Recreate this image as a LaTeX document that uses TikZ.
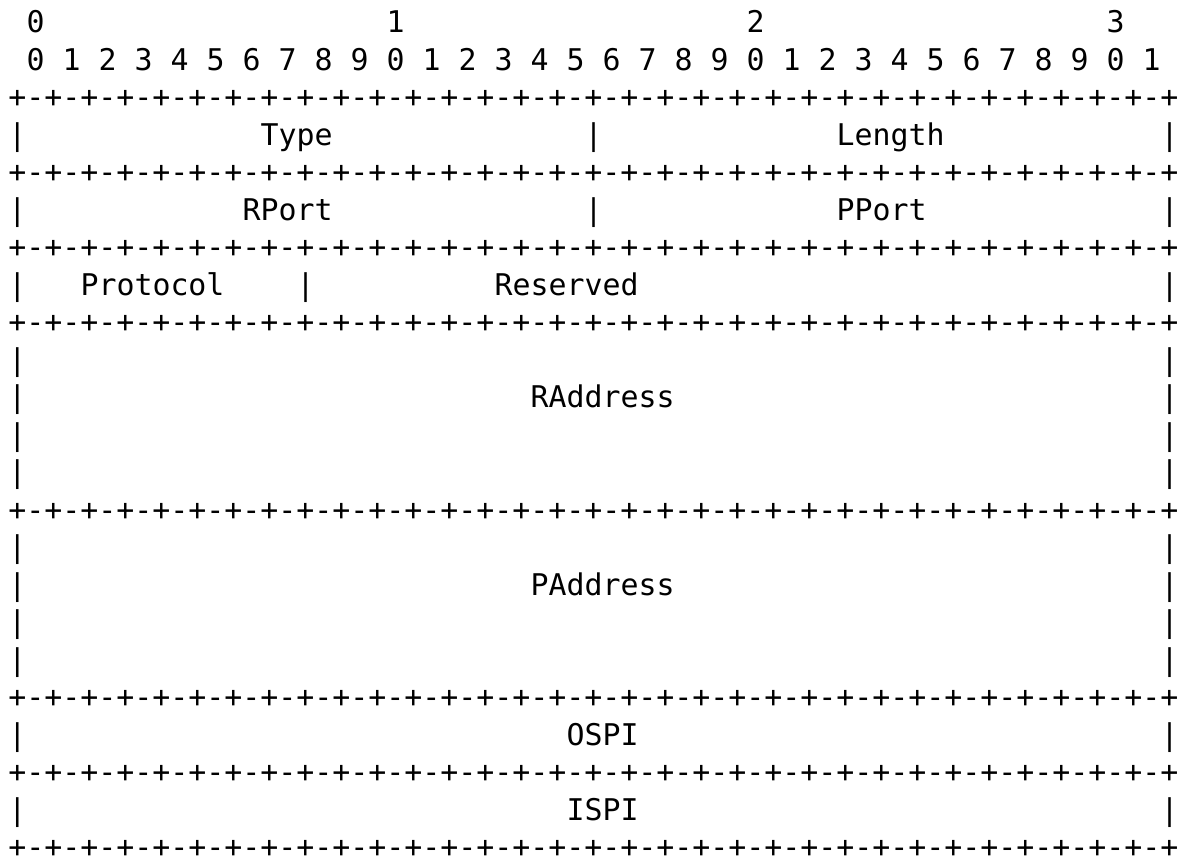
\documentclass[tikz,border=0pt]{standalone}
\usepackage{fontspec}
\newfontfamily\monof{DejaVu Sans Mono}
\newcommand\pairs{+-+-+-+-+-+-+-+-}
\newcommand\sepstr{\pairs\pairs\pairs\pairs+}
\begin{document}
\begin{tikzpicture}[x=0.5pt,y=-0.5pt,
  txt/.style={font=\monof\fontsize{14.95}{18}\selectfont, anchor=base west,
    inner sep=0pt, outer sep=0pt, text=black}]
\useasboundingbox (0,0) rectangle (1182,860);
\newcommand\putcell[4]{\node[txt] (#1) at ({8.5+#2*18},{32.8+37.5*#3}) {#4};}
% header
\putcell{h0}{1}{0}{0}
\putcell{h1}{21}{0}{1}
\putcell{h2}{41}{0}{2}
\putcell{h3}{61}{0}{3}
\foreach \n in {0,...,31}{
  \pgfmathtruncatemacro\d{mod(\n,10)}
  \pgfmathtruncatemacro\c{2*\n+1}
  \putcell{bit\n}{\c}{1}{\d}
}
% separator lines
\foreach \r in {2,4,6,8,13,18,20,22}{
  \putcell{sep\r}{0}{\r}{\sepstr}
}
% side bars
\foreach \r in {3,5,7,9,10,11,12,14,15,16,17,19,21}{
  \putcell{lb\r}{0}{\r}{|}
  \putcell{rb\r}{64}{\r}{|}
}
\putcell{mb3}{32}{3}{|}
\putcell{mb5}{32}{5}{|}
\putcell{mb7}{16}{7}{|}
% labels
\putcell{type}{14}{3}{Type}
\putcell{length}{46}{3}{Length}
\putcell{rport}{13}{5}{RPort}
\putcell{pport}{46}{5}{PPort}
\putcell{protocol}{4}{7}{Protocol}
\putcell{reserved}{27}{7}{Reserved}
\putcell{raddress}{29}{10}{RAddress}
\putcell{paddress}{29}{15}{PAddress}
\putcell{ospi}{31}{19}{OSPI}
\putcell{ispi}{31}{21}{ISPI}
\end{tikzpicture}
\end{document}
